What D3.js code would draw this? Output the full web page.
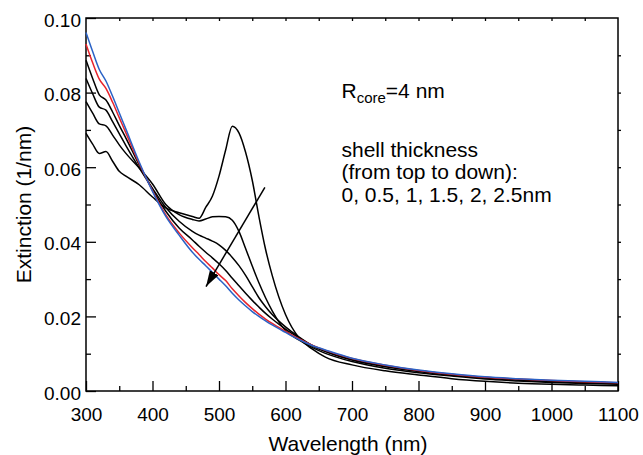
<!DOCTYPE html>
<html>
<head>
<meta charset="utf-8">
<script src="https://cdn.jsdelivr.net/npm/d3@7"></script>
<style>
  html, body { margin: 0; padding: 0; background: #fff; }
  svg { display: block; font-family: "Liberation Sans", Arial, Helvetica, sans-serif; }
</style>
</head>
<body>
<svg id="chart" width="643" height="455"></svg>
<script>
// Wavelength grid (nm) shared by all spectra
const wavelength = [300,310,320,330,340,350,360,380,400,420,440,460,470,480,490,500,510,520,530,540,550,560,570,580,600,620,640,660,700,750,800,850,900,950,1000,1050,1100];

// Extinction (1/nm) for each shell thickness, R_core = 4 nm
const shell0 = [0.0691,0.0662,0.0637,0.0642,0.0616,0.0589,0.0576,0.0553,0.0520,0.0491,0.0478,0.0468,0.0463,0.0492,0.0522,0.0576,0.0646,0.0710,0.0692,0.0640,0.0565,0.0468,0.0380,0.0310,0.0205,0.0143,0.0113,0.0091,0.0070,0.0054,0.0043,0.0033,0.0026,0.0021,0.0018,0.0016,0.0014];
const shell05 = [0.0776,0.0745,0.0716,0.0711,0.0686,0.0660,0.0637,0.0598,0.0555,0.0500,0.0473,0.0460,0.0456,0.0461,0.0467,0.0468,0.0467,0.0458,0.0428,0.0382,0.0335,0.0290,0.0250,0.0215,0.0162,0.0137,0.0117,0.0101,0.0079,0.0061,0.0049,0.0040,0.0032,0.0027,0.0023,0.0020,0.0018];
const shell1 = [0.0838,0.0797,0.0761,0.0753,0.0722,0.0690,0.0658,0.0598,0.0543,0.0492,0.0455,0.0428,0.0418,0.0410,0.0402,0.0392,0.0377,0.0358,0.0336,0.0310,0.0280,0.0250,0.0226,0.0205,0.0172,0.0145,0.0122,0.0106,0.0083,0.0065,0.0052,0.0042,0.0035,0.0029,0.0025,0.0022,0.0020];
const shell15 = [0.0887,0.0838,0.0794,0.0780,0.0748,0.0712,0.0678,0.0606,0.0540,0.0482,0.0437,0.0405,0.0388,0.0372,0.0357,0.0341,0.0323,0.0302,0.0282,0.0262,0.0243,0.0225,0.0208,0.0193,0.0166,0.0143,0.0122,0.0107,0.0085,0.0067,0.0054,0.0044,0.0036,0.0031,0.0027,0.0024,0.0021];
const shell2 = [0.0930,0.0880,0.0836,0.0811,0.0774,0.0733,0.0692,0.0610,0.0537,0.0472,0.0424,0.0384,0.0366,0.0347,0.0330,0.0312,0.0296,0.0274,0.0255,0.0237,0.0221,0.0206,0.0193,0.0181,0.0160,0.0140,0.0123,0.0109,0.0087,0.0069,0.0055,0.0045,0.0037,0.0032,0.0028,0.0025,0.0022];
const shell25 = [0.0961,0.0910,0.0862,0.0831,0.0790,0.0746,0.0702,0.0614,0.0535,0.0468,0.0418,0.0372,0.0353,0.0336,0.0318,0.0300,0.0282,0.0262,0.0244,0.0228,0.0213,0.0200,0.0188,0.0177,0.0157,0.0138,0.0122,0.0110,0.0088,0.0070,0.0056,0.0046,0.0038,0.0033,0.0029,0.0026,0.0023];

const seriesValues = [shell0, shell05, shell1, shell15, shell2, shell25];
const seriesColors = ["#000000", "#000000", "#000000", "#000000", "#e8232b", "#2a62c6"];

// Axis ticks
const xTicks = [300,400,500,600,700,800,900,1000,1100];
const yTicks = [0.00,0.02,0.04,0.06,0.08,0.10];

// Trend arrow (wavelength, extinction) from tail to head
const arrowFrom = [569, 0.0546];
const arrowTo = [480.5, 0.0280];

// Annotation lines
const noteCore = ["R", "core", "=4 nm"];
const noteLines = ["shell thickness", "(from top to down):", "0, 0.5, 1, 1.5, 2, 2.5nm"];

const svg = d3.select("#chart");
const margin = {left: 86, top: 18, right: 25, bottom: 64};
const W = 643, H = 455;
const x = d3.scaleLinear().domain([300, 1100]).range([margin.left, W - margin.right]);
const y = d3.scaleLinear().domain([0, 0.10]).range([H - margin.bottom, margin.top]);

const fmt = d3.format(".2f");

// Bottom axis: major ticks every 100 nm, minor every 50 nm, inward
const bottomMinor = svg.append("g").attr("transform", `translate(0,${y(0)})`)
  .call(d3.axisBottom(x).tickValues(d3.range(350, 1100, 100)).tickSize(-5).tickFormat(""));
bottomMinor.select(".domain").remove();
const bottomMajor = svg.append("g").attr("transform", `translate(0,${y(0)})`)
  .call(d3.axisBottom(x).tickValues(xTicks).tickSize(-10).tickPadding(17).tickFormat(d3.format("d")));
bottomMajor.select(".domain").remove();
bottomMajor.selectAll("text").attr("font-size", 19).attr("fill", "#000").attr("dy", "0.71em");

// Left axis: major every 0.02, minor every 0.01, inward
const leftMinor = svg.append("g").attr("transform", `translate(${x(300)},0)`)
  .call(d3.axisLeft(y).tickValues([0.01,0.03,0.05,0.07,0.09]).tickSize(-5).tickFormat(""));
leftMinor.select(".domain").remove();
const leftMajor = svg.append("g").attr("transform", `translate(${x(300)},0)`)
  .call(d3.axisLeft(y).tickValues(yTicks).tickSize(-10).tickPadding(5).tickFormat(fmt));
leftMajor.select(".domain").remove();
leftMajor.selectAll("text").attr("font-size", 19).attr("fill", "#000").attr("dy", "0.43em");

// Top axis: short inward ticks every 50 nm
const topAxis = svg.append("g").attr("transform", `translate(0,${y(0.10)})`)
  .call(d3.axisTop(x).tickValues(d3.range(350, 1100, 50)).tickSize(-3).tickFormat(""));
topAxis.select(".domain").remove();

// Right axis: short ticks every 0.01
const rightAxis = svg.append("g").attr("transform", `translate(${x(1100)},0)`)
  .call(d3.axisRight(y).tickValues(d3.range(1, 10).map(d => d / 100)).tickSize(3).tickFormat(""));
rightAxis.select(".domain").remove();

svg.selectAll(".tick line").attr("stroke", "#000").attr("stroke-width", 1.3);

// Frame
svg.append("rect")
  .attr("x", x(300)).attr("y", y(0.10))
  .attr("width", x(1100) - x(300)).attr("height", y(0) - y(0.10))
  .attr("fill", "none").attr("stroke", "#000").attr("stroke-width", 1.5);

// Spectra
const line = d3.line()
  .x((d, i) => x(wavelength[i]))
  .y(d => y(d))
  .curve(d3.curveMonotoneX);

svg.append("g").selectAll("path")
  .data(seriesValues)
  .join("path")
  .attr("d", d => line(d))
  .attr("fill", "none")
  .attr("stroke", (d, i) => seriesColors[i])
  .attr("stroke-width", 1.5)
  .attr("stroke-linejoin", "round");

// Arrow
svg.append("defs").append("marker")
  .attr("id", "head")
  .attr("viewBox", "0 0 16 10")
  .attr("refX", 16).attr("refY", 5)
  .attr("markerWidth", 16).attr("markerHeight", 10)
  .attr("markerUnits", "userSpaceOnUse")
  .attr("orient", "auto")
  .append("path").attr("d", "M0,0 L16,5 L0,10 Z").attr("fill", "#000");

svg.append("line")
  .attr("x1", x(arrowFrom[0])).attr("y1", y(arrowFrom[1]))
  .attr("x2", x(arrowTo[0])).attr("y2", y(arrowTo[1]))
  .attr("stroke", "#000").attr("stroke-width", 1.5)
  .attr("marker-end", "url(#head)");

// Annotation
const core = svg.append("text").attr("x", 341.5).attr("y", 98).attr("font-size", 21).attr("fill", "#000");
core.append("tspan").text(noteCore[0]);
core.append("tspan").attr("font-size", 15).attr("dy", 5).text(noteCore[1]);
core.append("tspan").attr("dy", -5).text(noteCore[2]);

svg.append("g").selectAll("text")
  .data(noteLines)
  .join("text")
  .attr("x", 341.5)
  .attr("y", (d, i) => 156.5 + i * 22.6)
  .attr("font-size", 21)
  .attr("fill", "#000")
  .text(d => d);

// Axis titles
svg.append("text")
  .attr("x", (x(300) + x(1100)) / 2 - 4).attr("y", 451)
  .attr("text-anchor", "middle").attr("font-size", 21).attr("fill", "#000")
  .text("Wavelength (nm)");

svg.append("text")
  .attr("transform", `translate(31,${(y(0) + y(0.10)) / 2}) rotate(-90)`)
  .attr("text-anchor", "middle").attr("font-size", 21).attr("fill", "#000")
  .text("Extinction (1/nm)");
</script>
</body>
</html>
